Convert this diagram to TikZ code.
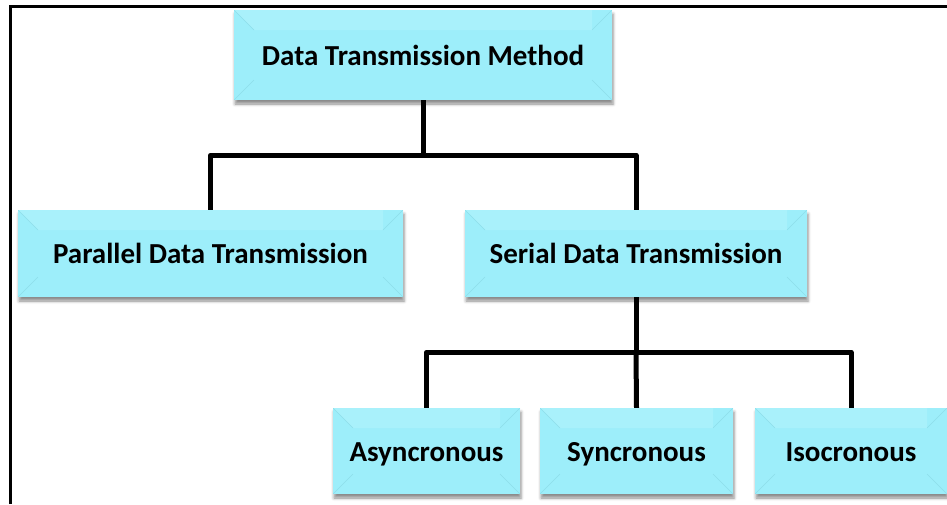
\documentclass[tikz,border=0pt]{standalone}
\usepackage{fontspec}
\setmainfont{Carlito}
\usetikzlibrary{shadows.blur}
\definecolor{boxfill}{HTML}{9DEEFA}
\definecolor{boxtop}{HTML}{A9F1FB}
\definecolor{bevelline}{HTML}{8EDDEA}
\tikzset{
  box/.style={
    fill=boxfill, inner sep=0pt, font=\bfseries\fontsize{29}{33}\selectfont,
    text height=24pt, text depth=4pt,
    blur shadow={shadow xshift=1pt, shadow yshift=-4pt, shadow blur radius=3pt, shadow opacity=45},
    path picture={
      \fill[boxtop] (path picture bounding box.north west) -- ++(20pt,-20pt)
        -| ([xshift=-20pt]path picture bounding box.north east) -- (path picture bounding box.north east) -- cycle;
      \draw[bevelline, line width=0.5pt]
        (path picture bounding box.north west) -- ++(20pt,-20pt)
        (path picture bounding box.north east) -- ++(-20pt,-20pt)
        (path picture bounding box.south west) -- ++(20pt,20pt)
        (path picture bounding box.south east) -- ++(-20pt,20pt);
    }
  },
  conn/.style={line width=5pt, line join=round, black},
  frameline/.style={line width=3pt, black}
}
\begin{document}
\begin{tikzpicture}[x=1pt,y=-1pt]
  \useasboundingbox (0,0) rectangle (947,504);
  % outer frame (top and left edges)
  \draw[frameline] (10,504) -- (10,6) -- (947,6);

  % boxes
  \node[box, minimum width=378pt, minimum height=90pt] (top) at (423,55) {Data Transmission Method};
  \node[box, minimum width=385pt, minimum height=87pt] (par) at (210.5,253.5) {Parallel Data Transmission};
  \node[box, minimum width=342pt, minimum height=87pt] (ser) at (636,253.5) {Serial Data Transmission};
  \node[box, minimum width=187pt, minimum height=86pt] (asy) at (426.5,451) {Asyncronous};
  \node[box, minimum width=193pt, minimum height=86pt] (syn) at (636.5,451) {Syncronous};
  \node[box, minimum width=192pt, minimum height=86pt] (iso) at (851,451) {Isocronous};

  % connectors, first level
  \draw[conn] (top.south) -- ++(0,55) coordinate (j1);
  \draw[conn] (par.north) |- (j1) -| (ser.north);
  % connectors, second level
  \draw[conn] (ser.south) -- ++(0,55) coordinate (j2);
  \draw[conn] (asy.north) |- (j2) -| (iso.north);
  \draw[conn] (j2) -- (syn.north);
\end{tikzpicture}
\end{document}
